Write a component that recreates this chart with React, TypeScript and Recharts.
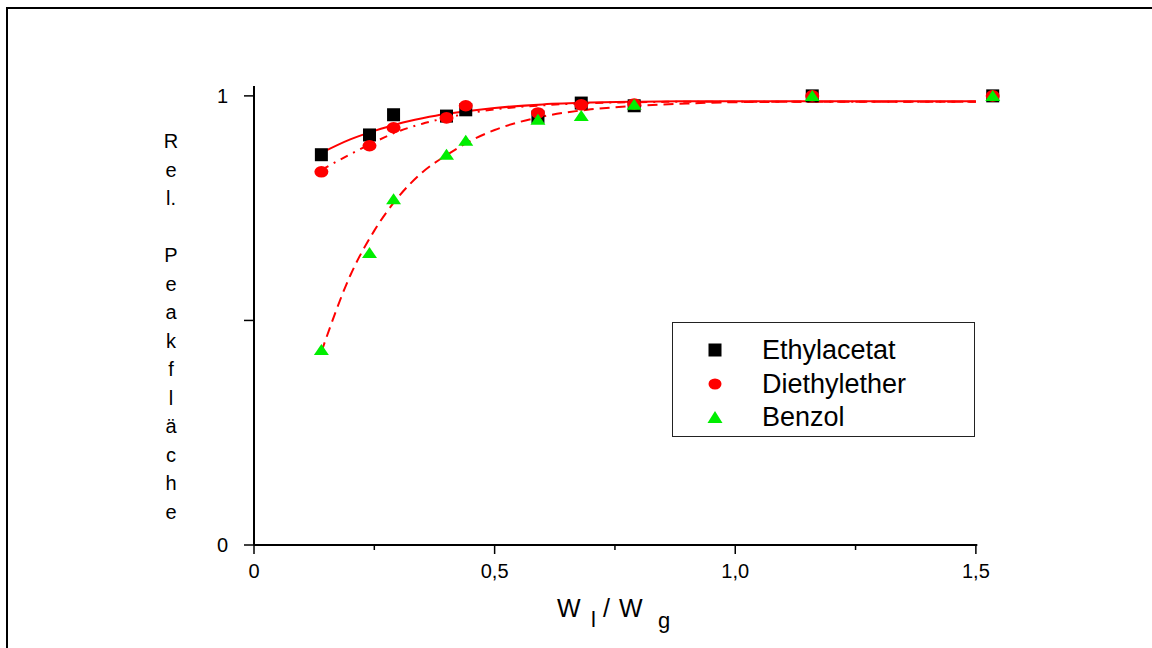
import React from "react";
import { ComposedChart, Scatter, Line, XAxis, YAxis, ReferenceLine, Legend } from "recharts";

const FONT = '"Liberation Sans", Arial, Helvetica, sans-serif';

// measured points (x = W_l / W_g)
const xValues = [0.14, 0.24, 0.29, 0.4, 0.44, 0.59, 0.68, 0.79, 1.16, 1.535];
const ethylacetat = [0.869, 0.913, 0.958, 0.955, 0.969, 0.953, 0.984, 0.978, 1.0, 1.0];
const diethylether = [0.831, 0.889, 0.929, 0.951, 0.978, 0.962, 0.98, 0.982, 1.0, 1.0];
const benzol = [0.434, 0.65, 0.77, 0.869, 0.9, 0.947, 0.955, 0.98, 1.0, 1.0];

// fit curves
const fitX = [0.14, 0.2, 0.25, 0.3, 0.35, 0.4, 0.45, 0.5, 0.6, 0.7, 0.8, 0.9, 1.0, 1.2, 1.5];
const fitEthyl = [0.873, 0.903, 0.922, 0.938, 0.95, 0.96, 0.967, 0.973, 0.981, 0.985, 0.987, 0.988, 0.988, 0.988, 0.988];
const fitDiethyl = [0.835, 0.87, 0.897, 0.921, 0.938, 0.951, 0.962, 0.97, 0.979, 0.984, 0.986, 0.987, 0.987, 0.987, 0.987];
const fitBenzol = [0.43, 0.6, 0.7, 0.775, 0.83, 0.868, 0.9, 0.924, 0.954, 0.97, 0.978, 0.983, 0.986, 0.987, 0.987];

const seriesNames = ["Ethylacetat", "Diethylether", "Benzol"];
const xTicks = [0, 0.25, 0.5, 0.75, 1, 1.25, 1.5];
const yTicks = [0, 0.5, 1];
const yLabel = ["R", "e", "l.", "", "P", "e", "a", "k", "f", "l", "ä", "c", "h", "e"];

const toPoints = (xs: number[], ys: number[]) => xs.map((x, i) => ({ x, y: ys[i] }));

const fmt = (v: number) => (v === 0 ? "0" : v.toFixed(1).replace(".", ","));

const XTick = (props: any) => {
  const { x, y, payload } = props;
  const v = payload.value;
  const major = Math.abs(v * 2 - Math.round(v * 2)) < 1e-6;
  return (
    <g>
      <line x1={x} x2={x} y1={y} y2={y + (major ? 9 : 5)} stroke="#000" strokeWidth={1.5} />
      {major && (
        <text x={x} y={y + 33} textAnchor="middle" fill="#000" fontSize={20} fontFamily={FONT}>
          {fmt(v)}
        </text>
      )}
    </g>
  );
};

const SquareDot = (p: any) => <rect x={p.cx - 6.5} y={p.cy - 6.5} width={13} height={13} fill="#000" />;
const CircleDot = (p: any) => <ellipse cx={p.cx} cy={p.cy} rx={7} ry={5.8} fill="#ff0000" />;
const TriangleDot = (p: any) => (
  <polygon points={`${p.cx},${p.cy - 6} ${p.cx + 7.5},${p.cy + 5} ${p.cx - 7.5},${p.cy + 5}`} fill="#00ee00" />
);

const LegendMarker = ({ type }: { type: string }) => (
  <svg width={18} height={16} style={{ position: "absolute", left: 33, top: -8 }}>
    {type === "square" && <rect x={2.5} y={1.5} width={13} height={13} fill="#000" />}
    {type === "circle" && <ellipse cx={9} cy={8} rx={6.5} ry={5.5} fill="#ff0000" />}
    {type === "triangle" && <polygon points="9,2 16.5,14 1.5,14" fill="#00ee00" />}
  </svg>
);

const renderLegend = (props: any) => {
  const items = (props.payload || [])
    .filter((e: any) => e.type !== "none")
    .slice()
    .sort((a: any, b: any) => seriesNames.indexOf(a.value) - seriesNames.indexOf(b.value));
  return (
    <div
      style={{
        width: 303,
        height: 115,
        boxSizing: "border-box",
        border: "1.5px solid #222",
        background: "#fff",
        position: "relative",
        fontFamily: FONT,
      }}
    >
      {items.map((e: any, i: number) => (
        <div key={e.value} style={{ position: "absolute", left: 0, top: 27 + i * 33.5, width: "100%" }}>
          <LegendMarker type={e.type} />
          <span
            style={{
              position: "absolute",
              left: 89,
              top: -16,
              fontSize: 27,
              lineHeight: "32px",
              color: "#000",
              whiteSpace: "nowrap",
            }}
          >
            {e.value}
          </span>
        </div>
      ))}
    </div>
  );
};

export default function App() {
  return (
    <div style={{ position: "absolute", left: 0, top: 0, width: 1152, height: 648, background: "#fff" }}>
      <div
        style={{
          position: "absolute",
          left: 6,
          top: 7,
          right: 0,
          bottom: 0,
          borderTop: "2px solid #000",
          borderLeft: "2px solid #000",
        }}
      />
      <div style={{ position: "absolute", left: 0, top: 0 }}>
        <ComposedChart width={1152} height={648} margin={{ top: 86, right: 128, bottom: 43, left: 194 }}>
          <XAxis
            type="number"
            dataKey="x"
            domain={[0, 1.6]}
            ticks={xTicks}
            interval={0}
            axisLine={false}
            tickLine={false}
            tickSize={0}
            tickMargin={0}
            height={60}
            tick={(p: any) => <XTick {...p} />}
          />
          <YAxis
            type="number"
            dataKey="y"
            domain={[0, 1.022]}
            ticks={yTicks}
            interval={0}
            width={60}
            axisLine={{ stroke: "#000", strokeWidth: 2 }}
            tickLine={{ stroke: "#000", strokeWidth: 1.5 }}
            tickSize={10}
            tickMargin={16}
            tickFormatter={(v: number) => (v === 0.5 ? "" : String(v))}
            tick={{ fill: "#000", fontSize: 20, fontFamily: FONT }}
          />
          <ReferenceLine
            segment={[
              { x: 0, y: 0 },
              { x: 1.503, y: 0 },
            ]}
            stroke="#000"
            strokeWidth={2}
          />
          <Scatter
            name="Ethylacetat"
            data={toPoints(xValues, ethylacetat)}
            fill="#000"
            legendType="square"
            shape={SquareDot}
            isAnimationActive={false}
          />
          <Scatter
            name="Diethylether"
            data={toPoints(xValues, diethylether)}
            fill="#ff0000"
            legendType="circle"
            shape={CircleDot}
            isAnimationActive={false}
          />
          <Scatter
            name="Benzol"
            data={toPoints(xValues, benzol)}
            fill="#00ee00"
            legendType="triangle"
            shape={TriangleDot}
            isAnimationActive={false}
          />
          <Line
            data={toPoints(fitX, fitEthyl)}
            dataKey="y"
            type="monotone"
            stroke="#ff0000"
            strokeWidth={2}
            dot={false}
            legendType="none"
            isAnimationActive={false}
          />
          <Line
            data={toPoints(fitX, fitDiethyl)}
            dataKey="y"
            type="monotone"
            stroke="#ff0000"
            strokeWidth={2}
            strokeDasharray="8 6 2 6"
            dot={false}
            legendType="none"
            isAnimationActive={false}
          />
          <Line
            data={toPoints(fitX, fitBenzol)}
            dataKey="y"
            type="monotone"
            stroke="#ff0000"
            strokeWidth={2}
            strokeDasharray="10 6"
            dot={false}
            legendType="none"
            isAnimationActive={false}
          />
          <Legend
            layout="vertical"
            align="center"
            verticalAlign="middle"
            content={renderLegend}
            wrapperStyle={{ left: 672, top: 322, width: 303, height: 115 }}
          />
        </ComposedChart>
      </div>
      <svg
        width={1152}
        height={648}
        style={{ position: "absolute", left: 0, top: 0, pointerEvents: "none" }}
        fontFamily={FONT}
        fill="#000"
      >
        {yLabel.map((c, i) => (
          <text key={i} x={171} y={148 + i * 28.5} textAnchor="middle" fontSize={20}>
            {c}
          </text>
        ))}
        <text x={557} y={617} fontSize={25}>W</text>
        <text x={591} y={627} fontSize={22}>l</text>
        <text x={603} y={617} fontSize={25}>/</text>
        <text x={619} y={617} fontSize={25}>W</text>
        <text x={658} y={628} fontSize={22}>g</text>
      </svg>
    </div>
  );
}
